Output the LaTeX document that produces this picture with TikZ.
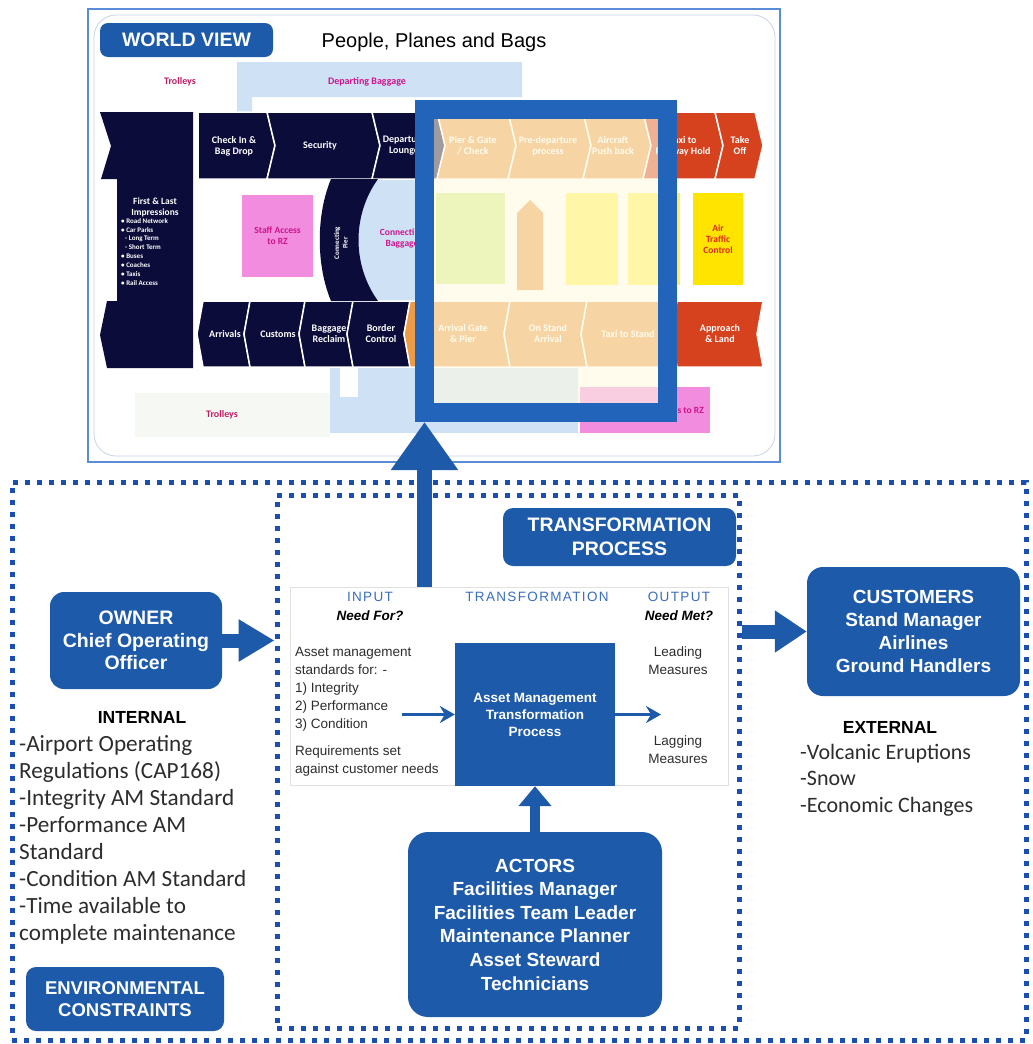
\documentclass[tikz,border=0pt]{standalone}
\usepackage{fontspec}
\setmainfont{Liberation Sans}
\newfontfamily\carl{Carlito}
\newfontfamily\spaced[LetterSpace=10]{Liberation Sans}
\usetikzlibrary{arrows.meta}

\definecolor{boxblue}{RGB}{29,90,170}
\definecolor{frameblue}{RGB}{33,100,185}
\definecolor{dotblue}{RGB}{28,78,178}
\definecolor{navy}{RGB}{12,12,58}
\definecolor{skyband}{RGB}{207,226,245}
\definecolor{trolleyband}{RGB}{246,249,243}
\definecolor{pinkbox}{RGB}{242,140,222}
\definecolor{magtext}{RGB}{205,20,140}
\definecolor{trolleytext}{RGB}{195,30,100}
\definecolor{redchev}{RGB}{214,66,30}
\definecolor{orangechev}{RGB}{236,155,70}
\definecolor{atcyellow}{RGB}{255,228,0}
\definecolor{paleyellow}{RGB}{255,240,80}
\definecolor{palegreen}{RGB}{214,236,128}
\definecolor{cream}{RGB}{255,251,228}
\definecolor{headblue}{RGB}{58,110,190}
\definecolor{bodygrey}{RGB}{45,45,45}
\definecolor{wvline}{RGB}{90,140,215}
\definecolor{wvinner}{RGB}{200,212,228}
\definecolor{atcred}{RGB}{225,40,20}

\newcommand\fsz[2]{\fontsize{#1}{#2}\selectfont}
% right-pointing chevron in the departures row: x1, x2, colour
\newcommand\rchev[3]{\filldraw[fill=#3,draw=white,line width=1.5pt]
  (#1,112) -- (#2,112) -- ({#2+8},145.5) -- (#2,179) -- (#1,179) -- ({#1+8},145.5) -- cycle;}
% left-pointing chevron in the arrivals row: x1, x2, colour
\newcommand\lchev[3]{\filldraw[fill=#3,draw=white,line width=1.5pt]
  (#1,301) -- (#2,301) -- ({#2-6},334) -- (#2,367) -- (#1,367) -- ({#1-6},334) -- cycle;}

\begin{document}
\begin{tikzpicture}[x=1pt,y=-1pt,
  bluebox/.style={fill=boxblue,rounded corners=14pt,text=white,align=center,
    inner sep=0pt,font=\bfseries\fsz{19}{23}},
  dotframe/.style={draw=dotblue,line width=5pt,dash pattern=on 5pt off 7pt,inner sep=0pt},
  wvtext/.style={text=white,font=\carl\bfseries\fsz{10}{11},align=center,inner sep=0pt},
  maglabel/.style={text=magtext,font=\carl\bfseries\fsz{10}{11},align=center,inner sep=0pt},
  bigarrow/.style={draw=boxblue,line width=15pt,-{Triangle[length=48pt,width=64pt]}},
  thickarrow/.style={draw=boxblue,line width=14pt,-{Triangle[length=36pt,width=40pt]}},
  midarrow/.style={draw=boxblue,line width=10pt,-{Triangle[length=20pt,width=32pt]}},
  thinarrow/.style={draw=boxblue,line width=3pt,-{Stealth[length=15pt,width=17pt,inset=5pt]}},
  colhead/.style={text=headblue,font=\spaced\fsz{13.5}{16},inner sep=0pt},
  colsub/.style={text=black,font=\bfseries\itshape\fsz{13.5}{16},inner sep=0pt},
  paneltext/.style={text=bodygrey,font=\fsz{13.5}{18},align=left,inner sep=0pt},
  listtext/.style={text=bodygrey,font=\carl\fsz{23.2}{27.1},align=left,inner sep=0pt},
  headword/.style={text=black,font=\bfseries\fsz{17.5}{20},inner sep=0pt}]

\useasboundingbox (0,0) rectangle (1033,1044);
\fill[white] (0,0) rectangle (1033,1044);

%================ World view: people, planes and bags ================
\node[draw=wvline,line width=1.2pt,minimum width=692pt,minimum height=453pt,
  inner sep=0pt,outer sep=0pt] (wv) at (434,235.5) {};
\draw[wvinner,line width=0.8pt,rounded corners=22pt] (94,15) rectangle (775,456);

\node[bluebox,rounded corners=8pt,minimum width=173pt,minimum height=34pt,
  font=\bfseries\fsz{19.5}{22}] (wvlabel) at (186.5,40) {WORLD VIEW};
\node[font=\fsz{20}{22},inner sep=0pt] (wvtitle) at (434,42) {People, Planes and Bags};

% baggage and trolley bands
\fill[skyband] (237,62) -- (522,62) -- (522,97) -- (252,97) -- (252,112) -- (237,112) -- cycle;
\fill[trolleyband] (135,393) rectangle (330,437);
\fill[skyband] (330,368) rectangle (578,433);
\fill[white] (340,368) rectangle (358,397);
\fill[skyband] (355,179) rectangle (434,301);
\node[maglabel,text=trolleytext] (trolleytop) at (180,82) {Trolleys};
\node[maglabel] (depbag) at (367,82) {Departing Baggage};
\node[maglabel,text=trolleytext] (trolleybot) at (222,415) {Trolleys};

% first and last impressions block
\fill[navy] (100,112) -- (193,112) -- (193,368) -- (107,368) -- (100,335) -- (107,301)
  -- (117,301) -- (117,179) -- (101,179) -- (111,146) -- cycle;
\node[wvtext,font=\carl\bfseries\fsz{9.5}{11}] (firstlast) at (155,207) {First \& Last\\Impressions};
\node[wvtext,font=\carl\bfseries\fsz{7}{8.9},align=left,anchor=north west] (fllist) at (121,218)
  {\textbullet\ Road Network\\\textbullet\ Car Parks\\\hspace{4pt}- Long Term\\\hspace{4pt}- Short Term\\
   \textbullet\ Buses\\\textbullet\ Coaches\\\textbullet\ Taxis\\\textbullet\ Rail Access};

% departures row
\filldraw[fill=navy,draw=white,line width=1.5pt] (198,112) -- (267,112) -- (275,145.5) -- (267,179) -- (198,179) -- cycle;
\rchev{267}{372}{navy}
\rchev{372}{437}{navy}
\rchev{437}{508}{orangechev}
\rchev{508}{583}{orangechev}
\rchev{583}{643}{orangechev}
\rchev{643}{715}{redchev}
\rchev{715}{755}{redchev}
\node[wvtext] (checkin) at (234,146) {Check In \&\\Bag Drop};
\node[wvtext] (security) at (320,146) {Security};
\node[wvtext] (deplounge) at (404,146) {Departure\\Lounge};
\node[wvtext] (piergate) at (473,146) {Pier \& Gate\\/ Check};
\node[wvtext] (predep) at (548,146) {Pre-departure\\process};
\node[wvtext] (pushback) at (613,146) {Aircraft\\Push back};
\node[wvtext] (taxirwy) at (683,146) {Taxi to\\Runway Hold};
\node[wvtext] (takeoff) at (740,146) {Take\\Off};

% arrivals row
\lchev{203}{250}{navy}
\lchev{250}{305}{navy}
\lchev{305}{353}{navy}
\lchev{353}{410}{navy}
\lchev{410}{510}{orangechev}
\lchev{510}{587}{orangechev}
\lchev{587}{677}{orangechev}
\lchev{677}{763}{redchev}
\node[wvtext] (arrivals) at (225,334) {Arrivals};
\node[wvtext] (customs) at (278,334) {Customs};
\node[wvtext] (reclaim) at (329,334) {Baggage\\Reclaim};
\node[wvtext] (border) at (381,334) {Border\\Control};
\node[wvtext] (arrgate) at (463,334) {Arrival Gate\\\& Pier};
\node[wvtext] (onstand) at (548,334) {On Stand\\Arrival};
\node[wvtext] (taxistand) at (628,334) {Taxi to Stand};
\node[wvtext] (approach) at (720,334) {Approach\\\& Land};

% connecting pier
\fill[navy] (331,179) -- (378,179) .. controls (352,215) and (352,265) .. (378,301)
  -- (331,301) .. controls (316,265) and (316,215) .. (331,179) -- cycle;
\node[wvtext,font=\carl\bfseries\fsz{7}{8.5},rotate=90] (pier) at (341,243) {Connecting\\Pier};
\node[maglabel,font=\carl\bfseries\fsz{9.5}{11}] (connbag) at (402,238) {Connecting\\Baggage};

% airside and landside boxes
\node[fill=pinkbox,minimum width=71pt,minimum height=82pt,inner sep=0pt,
  text=magtext,font=\carl\bfseries\fsz{9.5}{11},align=center] (staffa) at (277.5,236) {Staff Access\\to RZ};
\fill[palegreen] (436,193) rectangle (505,284);
\fill[orangechev] (517,290) -- (517,213) -- (530,200) -- (543,213) -- (543,290) -- cycle;
\fill[paleyellow] (566,193) rectangle (618,285);
\fill[paleyellow] (628,193) rectangle (680,285);
\node[fill=atcyellow,minimum width=50pt,minimum height=92pt,inner sep=0pt,
  text=atcred,font=\carl\bfseries\fsz{9.5}{11},align=center] (atc) at (718,239) {Air\\Traffic\\Control};
\fill[pinkbox] (580,387) rectangle (710,433);
\node[maglabel,font=\carl\bfseries\fsz{9.5}{11},anchor=east] (staffb) at (704,410) {Staff Access to RZ};

% zoomed section: faded interior and heavy frame
\fill[cream,opacity=0.6] (434,119) rectangle (658,403);
\node[draw=frameblue,line width=19pt,minimum width=243pt,minimum height=303pt,
  inner sep=0pt,outer sep=0pt] (zoomframe) at (546,261) {};

%================ Transformation system ================
\node[dotframe,minimum width=1014pt,minimum height=558pt] (envframe) at (519,761) {};
\node[dotframe,minimum width=462pt,minimum height=533pt] (tpframe) at (508,761.5) {};

\node[bluebox,rounded corners=10pt,minimum width=233pt,minimum height=58pt,
  font=\bfseries\fsz{19.5}{24}] (tplabel) at (619.5,537) {TRANSFORMATION\\PROCESS};

% input / transformation / output panel
\node[draw=black!12,fill=white,line width=0.8pt,minimum width=438pt,minimum height=198pt,
  inner sep=0pt] (panel) at (509,686) {};
\node[colhead] (inhead) at (370,597) {INPUT};
\node[colsub] (insub) at (370,616) {Need For?};
\node[colhead] (trhead) at (537,597) {TRANSFORMATION};
\node[colhead] (outhead) at (679,597) {OUTPUT};
\node[colsub] (outsub) at (679,616) {Need Met?};
\node[paneltext,anchor=north west] (inputs) at (295,647)
  {Asset management\\standards for: -\\1) Integrity\\2) Performance\\3) Condition\\[9pt]
   Requirements set\\against customer needs};
\node[paneltext,align=center] (leading) at (678,661) {Leading\\Measures};
\node[paneltext,align=center] (lagging) at (678,750) {Lagging\\Measures};
\node[fill=boxblue,minimum width=160pt,minimum height=143pt,inner sep=0pt,text=white,
  font=\bfseries\fsz{13.5}{17},align=center] (tbox) at (535,714.5)
  {Asset Management\\Transformation\\Process};
\coordinate (instart) at (402,714.5);
\coordinate (outend) at (661,714.5);
\draw[thinarrow] (instart) -- (tbox.west);
\draw[thinarrow] (tbox.east) -- (outend);

% actors
\node[bluebox,rounded corners=20pt,minimum width=254pt,minimum height=185pt,
  font=\bfseries\fsz{19}{23.6}] (actors) at (535,924.5)
  {ACTORS\\Facilities Manager\\Facilities Team Leader\\Maintenance Planner\\Asset Steward\\Technicians};
\draw[midarrow] (actors.north) -- (tbox.south);

% owner and internal constraints
\node[bluebox,minimum width=172pt,minimum height=97pt,font=\bfseries\fsz{19.5}{22.5}] (owner)
  at (136,640.5) {OWNER\\Chief Operating\\Officer};
\draw[thickarrow] (owner.east) -- (owner.east -| tpframe.west);
\node[headword] (internal) at (142,717) {INTERNAL};
\node[listtext,anchor=north west] (intlist) at (19,735)
  {-Airport Operating\\Regulations (CAP168)\\-Integrity AM Standard\\-Performance AM\\Standard\\
   -Condition AM Standard\\-Time available to\\complete maintenance};
\node[bluebox,rounded corners=10pt,minimum width=198pt,minimum height=64pt,
  font=\bfseries\fsz{18.5}{22}] (envlabel) at (125,999) {ENVIRONMENTAL\\CONSTRAINTS};

% customers and external influences
\node[bluebox,rounded corners=16pt,minimum width=213pt,minimum height=129pt,
  font=\bfseries\fsz{19}{23}] (customers) at (913.5,631.5)
  {CUSTOMERS\\Stand Manager\\Airlines\\Ground Handlers};
\draw[thickarrow,-{Triangle[length=32pt,width=40pt]}] (tpframe.east |- customers.west) -- (customers.west);
\node[headword] (external) at (890,727) {EXTERNAL};
\node[listtext,font=\carl\fsz{22}{26.5},anchor=north west] (extlist) at (800,744)
  {-Volcanic Eruptions\\-Snow\\-Economic Changes};

% link from the transformation panel up to the world view
\draw[bigarrow] (zoomframe.south west |- panel.north) -- ([yshift=-9.5pt]zoomframe.south west);

\end{tikzpicture}
\end{document}
